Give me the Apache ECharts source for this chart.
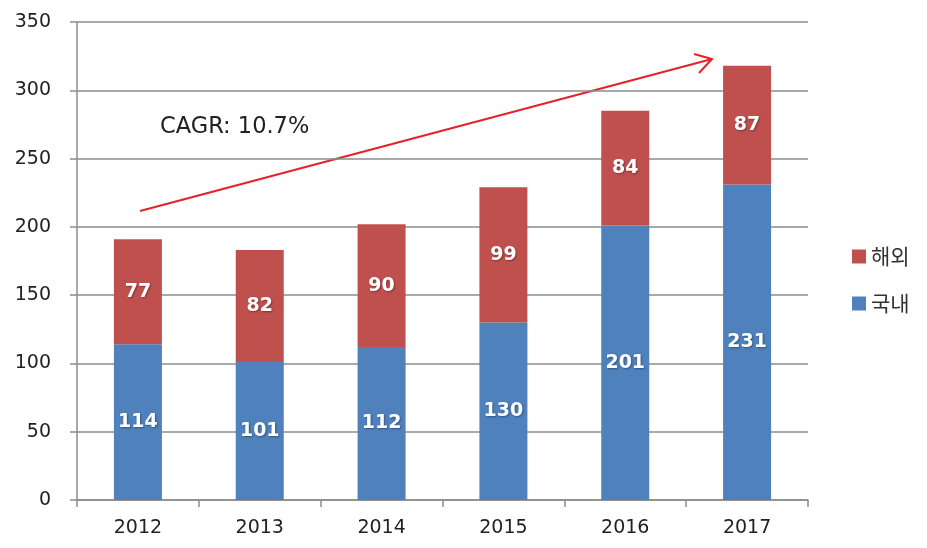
<!DOCTYPE html>
<html>
<head>
<meta charset="utf-8">
<script src="https://cdn.jsdelivr.net/npm/echarts@6/dist/echarts.min.js"></script>
<style>
  html, body { margin: 0; padding: 0; background: #fff; }
  #chart { width: 927px; height: 548px; }
</style>
</head>
<body>
<div id="chart"></div>
<script>
// data
const years = ['2012', '2013', '2014', '2015', '2016', '2017']
const domestic = [114, 101, 112, 130, 201, 231] // 국내
const overseas = [77, 82, 90, 99, 84, 87] // 해외
const cagrText = 'CAGR: 10.7%'

const FONT = '"DejaVu Sans", "Noto Sans CJK KR", sans-serif'
const gridColor = '#8c8c8c'

const chart = echarts.init(document.getElementById('chart'))

const barLabel = {
  show: true,
  position: 'inside',
  color: '#fff',
  fontSize: 19,
  fontWeight: 'bold',
  fontFamily: FONT,
  textShadowColor: 'rgba(0,0,0,0.35)',
  textShadowBlur: 2,
  textShadowOffsetX: 1,
  textShadowOffsetY: 1
}

chart.setOption({
  animation: false,
  textStyle: { fontFamily: FONT },
  grid: { left: 77, right: 119, top: 22, bottom: 48 },
  legend: {
    data: ['해외', '국내'],
    orient: 'vertical',
    left: 847,
    top: 241,
    itemWidth: 14,
    itemHeight: 14,
    itemGap: 26,
    icon: 'rect',
    textStyle: { fontSize: 21, color: '#333', fontFamily: '"Noto Sans CJK KR", sans-serif' }
  },
  xAxis: {
    type: 'category',
    data: years,
    axisLine: { lineStyle: { color: gridColor, width: 1.5 } },
    axisTick: { show: true, length: 7, lineStyle: { color: gridColor, width: 1.5 } },
    axisLabel: { fontSize: 19, color: '#222', margin: 19 }
  },
  yAxis: {
    type: 'value',
    min: 0,
    max: 350,
    interval: 50,
    axisLine: { show: true, lineStyle: { color: gridColor, width: 1.5 } },
    axisTick: { show: true, length: 7, lineStyle: { color: gridColor, width: 1.5 } },
    splitLine: { lineStyle: { color: gridColor, width: 1.5 } },
    axisLabel: { fontSize: 19, color: '#222', margin: 26 }
  },
  series: [
    {
      name: '국내',
      type: 'bar',
      stack: 'total',
      barWidth: 48,
      itemStyle: { color: '#4F81BD' },
      label: barLabel,
      data: domestic
    },
    {
      name: '해외',
      type: 'bar',
      stack: 'total',
      barWidth: 48,
      itemStyle: { color: '#C0504D' },
      label: barLabel,
      data: overseas
    }
  ],
  graphic: [
    {
      type: 'text',
      left: 160,
      top: 116,
      style: { text: cagrText, fontSize: 22.5, fill: '#222', fontFamily: FONT }
    },
    {
      type: 'line',
      shape: { x1: 140, y1: 211, x2: 712, y2: 59 },
      style: { stroke: '#e8202a', lineWidth: 2 }
    },
    {
      type: 'polyline',
      shape: { points: [[694, 54], [712, 59], [699, 73]] },
      style: { stroke: '#e8202a', lineWidth: 2, fill: null }
    }
  ]
})
</script>
</body>
</html>
